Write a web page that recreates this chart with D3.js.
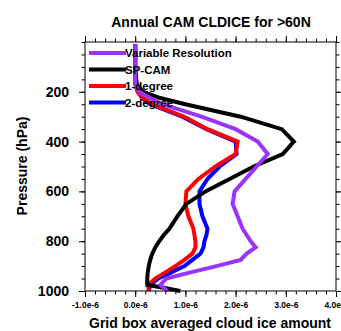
<!DOCTYPE html>
<html>
<head>
<meta charset="utf-8">
<script src="https://cdn.jsdelivr.net/npm/d3@7"></script>
<style>
  body { margin: 0; background: #fff; }
  svg text { font-family: "Liberation Sans", Arial, Helvetica, sans-serif; font-weight: bold; }
</style>
</head>
<body>
<svg id="chart" width="341" height="331"></svg>
<script>
// pressure levels (hPa), bottom to top
const levels = [1000, 975, 950, 925, 900, 875, 850, 825, 800, 775, 750, 700, 650, 600, 550, 500, 450, 400, 350, 300, 250, 225, 200, 175, 150, 125, 100, 70, 50, 30, 20, 10];

// cloud ice values, units of 1e-6
const varRes = [0.64, 0.5, 0.62, 1.1, 1.62, 2.1, 2.22, 2.4, 2.3, 2.22, 2.14, 2.04, 1.94, 1.98, 2.2, 2.42, 2.64, 2.44, 2.0, 1.32, 0.54, 0.3, 0.08, 0.01, 0, 0, 0, 0, 0, 0, 0, 0];
const spCam = [0.9, 0.24, 0.24, 0.25, 0.27, 0.3, 0.34, 0.4, 0.48, 0.57, 0.68, 0.84, 1.02, 1.4, 1.88, 2.36, 2.94, 3.16, 2.92, 2.1, 1.0, 0.5, 0.16, 0.04, 0.02, 0.01, 0, 0, 0, 0, 0, 0];
const oneDeg = [0.27, 0.26, 0.4, 0.6, 0.8, 0.98, 1.14, 1.2, 1.2, 1.18, 1.16, 1.06, 1.0, 1.02, 1.26, 1.6, 2.0, 2.04, 1.44, 0.98, 0.34, 0.16, 0.05, 0.01, 0, 0, 0, 0, 0, 0, 0, 0];
const twoDeg = [0.27, 0.3, 0.46, 0.72, 0.98, 1.14, 1.3, 1.36, 1.38, 1.42, 1.44, 1.34, 1.28, 1.28, 1.44, 1.68, 2.02, 2.0, 1.42, 0.94, 0.3, 0.14, 0.05, 0.01, 0, 0, 0, 0, 0, 0, 0, 0];

const seriesNames = ["Variable Resolution", "SP-CAM", "1-degree", "2-degree"];
const seriesColors = ["#9933ff", "#000000", "#ff0000", "#0000ff"];
const seriesValues = [varRes, spCam, oneDeg, twoDeg];
const drawOrder = [3, 2, 1, 0]; // blue under red under black under purple

const xTicks = [-1, 0, 1, 2, 3, 4];
const yTicks = [200, 400, 600, 800, 1000];

let svg = d3.select("#chart");
let mLeft = 85, mRight = 336, mTop = 42, mBottom = 291;

let x = d3.scaleLinear().domain([-1, 4]).range([mLeft, mRight]);
let y = d3.scaleLinear().domain([0, 1000]).range([mTop, mBottom]);

// axes, ticks pointing outward
let fmt = d => d.toFixed(1) + "e-6";
let minorX = d3.range(-1, 4.001, 0.2);
let minorY = d3.range(0, 1001, 50);

function tidy(g) {
    g.selectAll(".domain").remove();
    g.selectAll("line").attr("stroke", "#000").attr("stroke-width", 1);
}

svg.append("g").attr("transform", `translate(0,${mBottom})`)
    .call(d3.axisBottom(x).tickValues(minorX).tickSize(3.5).tickFormat(""))
    .call(tidy);
svg.append("g").attr("transform", `translate(0,${mBottom})`)
    .call(d3.axisBottom(x).tickValues(xTicks).tickSize(6).tickFormat(fmt).tickPadding(5))
    .call(tidy)
    .selectAll("text").attr("font-size", "8.5px").attr("fill", "#000");

svg.append("g").attr("transform", `translate(0,${mTop})`)
    .call(d3.axisTop(x).tickValues(minorX).tickSize(3.5).tickFormat(""))
    .call(tidy);
svg.append("g").attr("transform", `translate(0,${mTop})`)
    .call(d3.axisTop(x).tickValues(xTicks).tickSize(6).tickFormat(""))
    .call(tidy);

svg.append("g").attr("transform", `translate(${mLeft},0)`)
    .call(d3.axisLeft(y).tickValues(minorY).tickSize(3.5).tickFormat(""))
    .call(tidy);
svg.append("g").attr("transform", `translate(${mLeft},0)`)
    .call(d3.axisLeft(y).tickValues(yTicks).tickSize(6).tickPadding(10).tickFormat(d3.format("d")))
    .call(tidy)
    .selectAll("text").attr("font-size", "14px").attr("fill", "#000");

svg.append("g").attr("transform", `translate(${mRight},0)`)
    .call(d3.axisRight(y).tickValues(minorY).tickSize(3.5).tickFormat(""))
    .call(tidy);
svg.append("g").attr("transform", `translate(${mRight},0)`)
    .call(d3.axisRight(y).tickValues(yTicks).tickSize(6).tickFormat(""))
    .call(tidy);

// lines
let line = d3.line()
    .x(d => x(d[0]))
    .y(d => y(d[1]));

let lineGroup = svg.append("g");
drawOrder.forEach(function (i) {
    let pts = seriesValues[i].map((v, k) => [v, levels[k]]);
    lineGroup.append("path")
        .datum(pts)
        .attr("d", line)
        .attr("fill", "none")
        .attr("stroke", seriesColors[i])
        .attr("stroke-width", 4)
        .attr("stroke-linejoin", "miter");
});

// frame
svg.append("rect")
    .attr("x", mLeft).attr("y", mTop)
    .attr("width", mRight - mLeft).attr("height", mBottom - mTop)
    .attr("fill", "none").attr("stroke", "#000").attr("stroke-width", 1);

// legend
let legendY = [53, 69.5, 86, 102.5];
let legend = svg.append("g");
seriesNames.forEach(function (name, i) {
    legend.append("line")
        .attr("x1", 89).attr("x2", 126)
        .attr("y1", legendY[i]).attr("y2", legendY[i])
        .attr("stroke", seriesColors[i]).attr("stroke-width", 4);
    legend.append("text")
        .attr("x", 125).attr("y", legendY[i] + 4)
        .attr("font-size", "11.5px")
        .text(name);
});

// titles
svg.append("text")
    .attr("x", 211).attr("y", 27)
    .attr("text-anchor", "middle")
    .attr("font-size", "14px")
    .text("Annual CAM CLDICE for >60N");

svg.append("text")
    .attr("x", 210).attr("y", 328)
    .attr("text-anchor", "middle")
    .attr("font-size", "14px")
    .text("Grid box averaged cloud ice amount");

svg.append("text")
    .attr("transform", "translate(27,166) rotate(-90)")
    .attr("text-anchor", "middle")
    .attr("font-size", "14px")
    .text("Pressure (hPa)");
</script>
</body>
</html>
